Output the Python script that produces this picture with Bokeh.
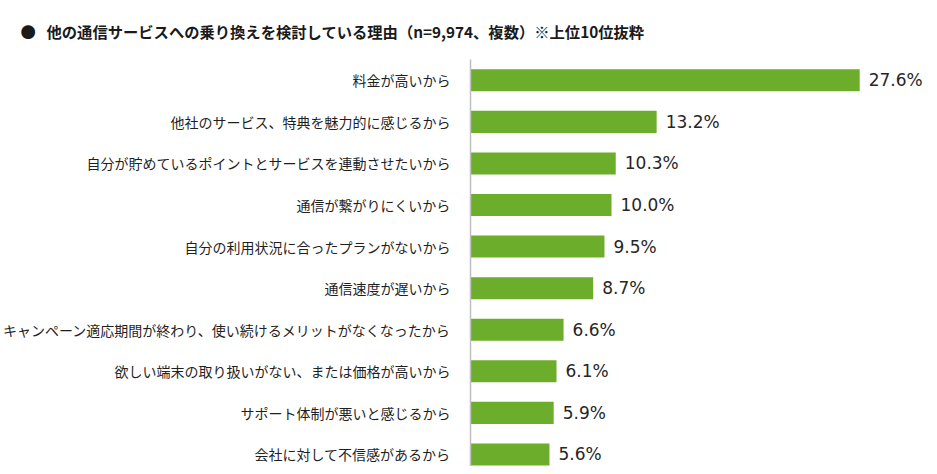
from bokeh.plotting import figure
from bokeh.models import Range1d, FixedTicker, ColumnDataSource
from bokeh.core.properties import value
from bokeh.embed import file_html
from bokeh.resources import INLINE

categories = [
    "料金が高いから",
    "他社のサービス、特典を魅力的に感じるから",
    "自分が貯めているポイントとサービスを連動させたいから",
    "通信が繋がりにくいから",
    "自分の利用状況に合ったプランがないから",
    "通信速度が遅いから",
    "キャンペーン適応期間が終わり、使い続けるメリットがなくなったから",
    "欲しい端末の取り扱いがない、または価格が高いから",
    "サポート体制が悪いと感じるから",
    "会社に対して不信感があるから",
]
values = [27.6, 13.2, 10.3, 10.0, 9.5, 8.7, 6.6, 6.1, 5.9, 5.6]
value_labels = ["27.6%", "13.2%", "10.3%", "10.0%", "9.5%", "8.7%", "6.6%", "6.1%", "5.9%", "5.6%"]
title_text = "●\u2002\u2009他の通信サービスへの乗り換えを検討している理由（n=9,974、複数）※上位10位抜粋"

pos = list(range(len(categories)))
src = ColumnDataSource(dict(y=pos, v=values, lab=value_labels))

p = figure(width=929, height=466, output_backend="svg", toolbar_location=None,
           x_range=Range1d(0, 32.55), y_range=Range1d(9.29, -0.5),
           min_border_left=470, min_border_right=0, min_border_top=58, min_border_bottom=0)
p.title.text = title_text
p.title.text_font = "Noto Sans CJK JP"
p.title.text_font_size = "15.3px"
p.title.text_font_style = "bold"
p.title.text_color = "#1a1a1a"
p.title.offset = -450
p.title.standoff = 35
p.outline_line_color = None
p.grid.visible = False
p.xaxis.visible = False
p.background_fill_color = "white"
p.border_fill_color = "white"

p.hbar(y="y", right="v", left=0, height=0.53, source=src,
       fill_color="#6dad2c", line_color=None)
p.text(x="v", y="y", text="lab", source=src, x_offset=9,
       text_font=value("DejaVu Sans"), text_font_size="17px",
       text_color="#262626", text_baseline="middle", text_align="left")

ya = p.yaxis[0]
ya.ticker = FixedTicker(ticks=pos)
ya.major_label_overrides = {i: c for i, c in zip(pos, categories)}
ya.major_label_text_font = "Noto Sans CJK JP"
ya.major_label_text_font_size = "14px"
ya.major_label_text_color = "#1f1f1f"
ya.major_tick_line_color = None
ya.minor_tick_line_color = None
ya.axis_line_color = "#bfbfbf"
ya.axis_line_width = 1.5
ya.major_label_standoff = 14

open("out.html", "w").write(file_html(p, INLINE))
